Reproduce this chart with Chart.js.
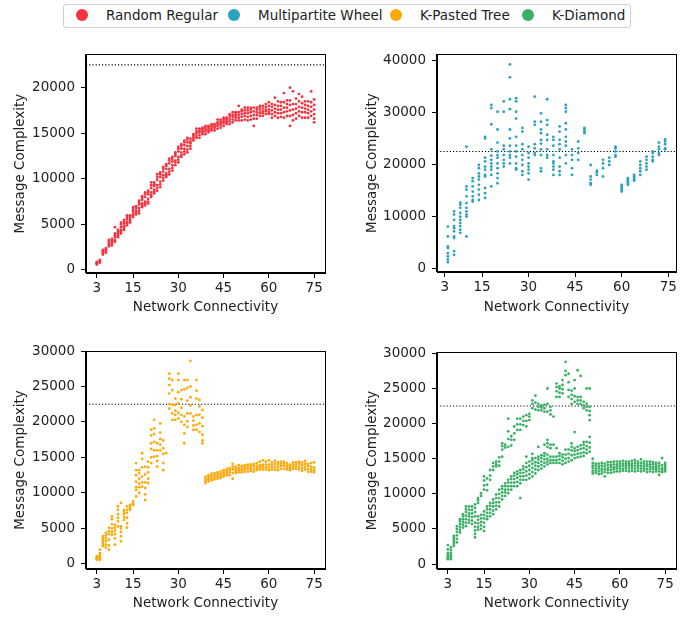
<!DOCTYPE html>
<html>
<head>
<meta charset="utf-8">
<script src="https://cdn.jsdelivr.net/npm/chart.js@4.4.1/dist/chart.umd.min.js"></script>
<style>
  body { margin: 0; background: #fff; width: 695px; height: 628px; position: relative; overflow: hidden; font-family: "DejaVu Sans", sans-serif; }
  canvas { position: absolute; }
  #legendBox { position: absolute; left: 63px; top: 4px; width: 568px; height: 24px; border: 1px solid #d0d0d0; border-radius: 3px; box-sizing: border-box; }
  .dot { position: absolute; width: 12px; height: 12px; border-radius: 50%; top: 10px; }
  .lab { position: absolute; top: 7px; font-size: 13.5px; line-height: 16px; color: #222; white-space: nowrap; }
</style>
</head>
<body>
<div id="legendBox"></div>
<div id="legend"></div>
<canvas id="c0" width="340" height="290" style="left:0;top:40px"></canvas>
<canvas id="c1" width="350" height="290" style="left:345px;top:40px"></canvas>
<canvas id="c2" width="340" height="298" style="left:0;top:330px"></canvas>
<canvas id="c3" width="350" height="298" style="left:345px;top:330px"></canvas>
<script>
// series names
const seriesNames = ["Random Regular", "Multipartite Wheel", "K-Pasted Tree", "K-Diamond"];

// x values (network connectivity)
const connectivity = [3,4,5,6,7,8,9,10,11,12,13,14,15,16,17,18,19,20,21,22,23,24,25,26,27,28,29,30,
  31,32,33,34,35,36,37,38,39,40,41,42,43,44,45,46,47,48,49,50,51,52,53,54,55,56,57,58,59,60,
  61,62,63,64,65,66,67,68,69,70,71,72,73,74,75];
const wheelConnectivity = [4,6,8,10,12,14,16,18,20,22,24,26,28,30,32,34,36,38,40,42,44,46,48,50,
  52,54,56,58,60,62,64,66,68,70,72,74];

// message complexity per x, in thousands
const randomRegular = [
  [0.6,0.7,0.8,0.8,0.9],[0.8,0.9,1.0,1.1],[1.7,1.9,2.0,2.1,2.2],[1.9,2.1,2.2,2.3,2.4],
  [2.6,2.8,2.9,3.1,3.3],[2.7,2.9,3.1,3.2,3.4],[3.1,3.3,3.6,3.8,4.0,4.7],[3.6,3.8,4.0,4.2,4.4],
  [4.0,4.2,4.4,4.7,5.0,5.2],[4.4,4.6,4.8,5.1,5.3,5.5],[4.9,5.1,5.3,5.6,5.8,6.0],[5.2,5.4,5.6,5.8,6.0],
  [5.8,6.0,6.2,6.5,6.7,6.9],[6.1,6.3,6.5,6.8,7.0],[6.2,6.5,6.8,7.2,7.4,7.6],[6.9,7.1,7.3,7.7,7.9,8.1],
  [7.1,7.3,7.5,8.0,8.3,8.5],[7.3,7.5,7.8,8.3,8.5,8.7],[8.0,8.2,8.5,9.0,9.3,9.6],[8.4,8.6,8.8,9.2,9.4,9.6],
  [8.7,9.0,9.3,9.9,10.2,10.5],[9.1,9.4,9.7,10.2,10.5,10.7],[9.8,10.1,10.4,10.8,11.1,11.3],
  [10.2,10.4,10.6,11.1,11.4,11.6],[10.5,10.8,11.1,11.7,12.0,12.2],[10.9,11.2,11.5,11.9,12.2,12.4],
  [11.5,11.8,12.0,12.5,12.7,12.9],[11.8,12.1,12.4,13.0,13.3,13.5],[12.4,12.6,12.9,13.3,13.6,13.8],
  [12.7,13.0,13.3,13.7,14.0,14.2],[12.9,13.2,13.6,14.0,14.3,14.5],[13.3,13.6,13.9,14.1,14.4],
  [14.2,14.4,14.6,14.8,14.9],[14.5,14.7,15.0,15.2,15.5],[14.5,14.8,15.1,15.3,15.5],[14.9,15.1,15.3,15.5,15.6],
  [14.9,15.2,15.4,15.6,15.8],[15.1,15.3,15.5,15.7,15.8],[15.3,15.5,15.7,15.9,16.0],[15.3,15.6,15.8,15.9,16.0],
  [15.5,15.8,16.0,16.2,16.5],[15.6,15.9,16.1,16.3,16.5],[15.8,16.1,16.3,16.5,16.7],[16.0,16.2,16.4,16.6,16.7],
  [16.0,16.3,16.6,16.9,17.1],[16.2,16.5,16.8,17.0,17.3],[16.4,16.7,16.9,17.1,17.3],[16.4,16.7,17.0,17.3,18.0],
  [16.4,16.8,17.1,17.4,17.6],[16.5,16.9,17.2,17.5,17.8],[16.4,16.8,17.2,17.5,17.8],[16.5,16.9,17.3,17.6,17.8],
  [15.8,16.6,17.0,17.4,17.8],[16.6,17.0,17.3,17.6,17.8],[16.9,17.2,17.5,17.8,18.0],[16.9,17.2,17.4,17.7,18.0],
  [17.1,17.4,17.6,17.9,18.2],[17.1,17.3,17.6,18.0,18.4],[16.7,17.1,17.5,17.9,18.2],[16.9,17.3,17.7,18.1,18.9],
  [16.7,17.2,17.6,18.0,18.5],[16.8,17.2,17.6,18.0,18.4],[16.7,17.3,17.8,18.4,19.4],[16.9,17.4,17.8,18.2,18.6],
  [15.8,16.9,17.5,18.1,18.6,20.0],[16.4,17.0,17.6,18.2,19.6],[16.6,17.2,17.7,18.2,18.8],[16.9,17.4,17.9,18.5,19.3],
  [16.7,17.3,17.8,18.3,19.0],[16.7,17.3,17.7,18.1,18.5],[16.7,17.2,17.6,18.0,18.5],[16.9,17.4,17.9,18.4,19.6],
  [16.2,16.6,17.1,17.6,18.1,18.7]
];

const multipartiteWheel = [
  [1.3,1.8,2.4,3.0,4.0,4.3,6.2,8.1],[2.7,3.4,5.9,6.2,7.2,7.8,8.2,9.4,10.4,11.0],
  [6.9,7.5,8.2,8.8,9.4,10.0,10.7,11.7,12.3,12.7],[6.2,10.0,10.4,11.0,11.7,12.6,13.9,15.2,15.8,23.4],
  [12.9,13.2,13.9,14.8,15.8,16.8,17.4],[13.2,14.2,15.2,16.1,17.1,17.7,18.3,19.3,19.9],
  [13.6,14.5,15.5,17.7,18.0,19.0,19.6,20.6,21.3,25.0,25.3],[15.8,18.0,19.0,19.6,20.2,20.9,21.7,22.9,27.7,30.8,31.4],
  [16.4,17.4,18.3,19.3,20.2,21.3,21.8,22.5,24.2,26.7,30.1],[19.6,20.2,20.9,21.8,22.9,23.6,30.1,32.1],
  [20.2,21.3,21.8,22.5,23.6,25.0,26.7,30.6,32.5,36.7,39.2],[19.0,19.3,20.2,21.5,22.5,23.6,25.3,28.8,30.1,32.1,32.7],
  [18.0,18.7,19.9,20.9,21.8,22.9,23.9,26.3,27.0],[17.1,18.3,19.0,19.6,20.2,21.3,22.2,23.4],
  [21.8,22.2,23.1,23.9,27.6,28.2,33.0],[18.7,19.3,21.8,22.9,24.0,24.7,26.0,26.7,28.2,29.8],
  [21.3,21.8,22.9,24.7,25.7,27.6,28.5,32.5],[18.0,19.0,19.6,20.2,20.6,21.8,23.6,24.7,25.3],
  [18.0,18.7,19.6,21.3,22.9,23.9,24.7,26.3,27.3],[20.2,21.8,23.6,24.4,25.3,26.7,27.9,30.1,30.8,31.4],
  [18.0,19.3,20.9,21.8,22.9],[20.9,22.2,23.1,24.4],[26.0,26.3,26.7,27.0],[16.1,16.4,17.1,17.7,19.9],
  [18.0,18.5,18.8],[17.7,19.3,20.2,20.9],[19.9,20.6,21.3],[21.5,21.8,22.5,23.1,23.4],
  [14.8,15.2,15.5,15.8,16.1],[16.1,16.4,16.8,17.1,17.4],[16.9,17.1,17.4,17.7,18.0],[18.0,18.7,19.3,19.9,20.6],
  [19.0,19.6,20.2,20.9,21.5],[20.6,20.9,21.5,22.2,22.5],[21.8,22.2,22.9,23.4,24.2],[22.9,23.1,23.9,24.4,24.8]
];

const kPastedTree = [
  [0.6,0.7,0.8,0.9,1.0,1.1],[0.6,0.8,1.0,1.2,1.5,2.0],[2.5,2.8,3.1,3.4,3.7,3.9],[2.3,2.7,3.2,3.6,4.0,4.4],
  [2.0,2.6,3.4,4.2,4.6,5.1],[4.1,4.5,5.0,5.6,6.3,6.7],[2.7,3.6,4.2,4.7,5.1,5.5],[5.3,6.0,6.5,7.0,7.6,8.1],
  [3.2,3.9,4.5,5.0,5.3,8.6],[6.2,6.6,7.0,7.3,7.6],[5.1,5.7,6.5,7.2,7.6,8.1],[7.6,7.8,8.0,8.3],
  [8.3,8.5,8.8],[9.5,10.4,10.8,11.6,12.5,13.2,14.2],[10.0,10.8,11.3,12.0,12.8,13.2],[10.9,11.5,12.3,13.6,14.8,15.6],
  [9.0,9.8,10.7,11.5,12.6,13.7],[11.4,12.0,12.9,13.6,14.4],[14.2,15.0,16.2,17.0,18.1,18.9],[15.1,16.0,17.2,18.3,19.1,20.3],
  [13.7,14.5,15.2,16.0,17.0],[16.0,16.8,17.6,18.5,19.8],[13.2,14.2,15.5,16.3,17.4],[15.6],
  [21.9,22.5,24.0,25.2,26.1,26.8],[20.3,21.2,22.4,24.5,25.9],[20.3,21.0,21.6,22.4,23.3],[20.5,21.3,22.6,24.2,25.9,26.8],
  [20.0,21.0,22.0,23.2,24.5],[17.0,18.4,19.6,20.8,24.6,25.9],[19.3,20.1,21.2,23.0,24.8,25.9],[21.2,22.3,23.5,25.0,28.6],
  [18.9,19.5,20.2,20.8],[18.9,19.6,21.0,23.3,24.4,25.9],[18.6,19.8,21.0,22.2,23.1],[17.0,17.4,18.2,19.4,20.6,21.7],
  [11.4,11.7,12.0,12.3],[11.6,11.9,12.2,12.5],[11.8,12.1,12.4,12.7],[11.9,12.2,12.5,12.8],
  [12.0,12.3,12.6,12.9],[12.1,12.4,12.7,13.0],[12.3,12.6,12.9,13.2],[12.5,12.8,13.1,13.4],
  [12.5,12.9,13.2,13.5],[12.0,12.8,13.3,13.7,14.1],[12.8,13.1,13.4,13.7],[12.9,13.2,13.5,13.9],
  [12.9,13.2,13.5,13.8],[13.0,13.3,13.6,13.9],[13.0,13.4,13.7,14.0],[13.1,13.4,13.7,14.0],
  [13.0,13.4,13.8,14.1],[13.2,13.5,13.8,14.2],[13.3,13.6,13.9,14.4],[13.3,13.7,14.0,14.6],
  [13.3,13.6,14.0,14.4],[13.2,13.6,14.0,14.6],[13.3,13.7,14.0,14.3],[13.3,13.7,14.1,14.5],
  [13.2,13.6,14.0,14.3],[13.4,13.8,14.1,14.4],[13.4,13.8,14.1,14.4],[13.3,13.6,13.9,14.2],
  [13.2,13.5,13.8,14.0],[13.4,13.7,14.0,14.3],[13.4,13.7,14.0,14.3],[13.3,13.7,14.1,14.4],
  [13.1,13.5,13.9,14.3],[13.3,13.7,14.1,14.5],[13.0,13.4,13.8,14.1],[13.0,13.3,13.7,14.2],
  [12.9,13.2,13.6,14.3]
];

const kDiamond = [
  [0.7,0.9,1.1,1.3,1.6,2.1,2.7],[0.7,1.0,1.3,1.6,2.0,2.4],[2.6,2.9,3.2,3.5,3.8,4.0],[3.1,3.6,4.1,4.6,5.0,5.4],
  [4.5,4.9,5.3,5.7,6.1,6.4],[5.2,5.6,6.0,6.4,6.8,7.1],[5.4,5.9,6.4,6.9,7.4,7.8,8.2],[5.9,6.3,6.8,7.2,7.7,8.2],
  [5.7,6.2,6.7,7.2,7.7,8.2],[3.8,4.3,4.8,5.3,5.9,6.8,7.4,8.0,8.5],[4.9,5.3,5.8,6.3,6.8,8.7,9.1,9.4],
  [5.0,5.5,6.0,6.5,7.0,9.7,10.1],[4.7,5.3,5.9,6.5,7.0,7.5,10.6,11.2,11.9,12.5],[6.4,6.8,7.3,7.8,8.2,10.5,11.3,12.2],
  [6.8,7.3,7.8,8.3,8.7,12.0,12.6,13.4],[7.1,7.6,8.2,8.7,9.2,13.4,13.9,14.4],[7.8,8.3,8.8,9.4,9.9,13.9,14.2,14.6],
  [8.2,8.8,9.4,10.0,10.6,14.0,14.6,15.2],[9.2,9.7,10.2,10.7,11.1,15.3,16.3,16.8,17.2],[9.7,10.2,10.6,11.1,11.5,16.6,17.0],
  [10.1,10.6,11.1,11.6,12.0,16.7,17.8,18.9,20.7],[10.6,11.1,11.6,12.1,12.5,16.9,17.7,18.2],
  [11.1,11.6,12.1,12.6,13.0,17.7,18.6,19.6],[11.1,11.7,12.3,12.8,13.2,19.1,19.9,20.7],
  [9.4,11.5,12.0,12.5,13.0,13.4,19.1,19.9,20.7],[12.0,12.5,13.0,13.5,13.9,19.8,20.4,21.0],
  [12.0,12.6,13.2,13.8,14.4,15.3,19.6,20.4,21.2],[12.2,12.8,13.4,14.0,14.6,20.5,21.0,21.4],
  [12.5,13.1,13.7,14.3,14.8,15.1,15.7,22.2,22.8,23.3],[12.9,13.5,14.0,14.5,15.1,22.0,23.0,24.0],
  [13.4,13.9,14.4,14.9,15.3,16.7,21.9,22.4,22.8],[13.6,14.1,14.6,15.1,15.5,21.9,22.3,22.6],
  [13.9,14.4,14.9,15.4,15.8,17.0,21.7,22.2,22.7],[14.2,14.6,15.0,15.6,16.7,17.2,17.7,21.7,22.8,25.0],
  [14.4,14.8,15.3,16.5,17.0,21.3,21.9,22.4],[14.4,14.8,15.3,17.0,21.0],[14.4,14.8,15.3,16.5,23.8,24.6,25.2,25.7],
  [14.4,14.9,15.4,15.8,23.8,24.4,25.0,25.3],[14.2,14.7,15.2,15.6,24.3,24.9,25.5,26.2],[14.4,15.0,15.6,16.3,26.9,27.5,28.8],
  [14.6,15.1,15.7,16.3,23.8,24.8,25.9,27.1],[14.8,15.5,16.2,16.7,17.2,22.8,23.5,24.1,24.7],
  [15.1,15.6,16.1,16.5,18.8,23.1,23.9,25.0,26.2],[15.2,15.7,16.2,16.7,22.8,23.3,23.8,27.6],
  [15.3,15.8,16.4,16.9,22.8,23.3,23.8,26.8],[15.4,15.9,16.5,17.0,17.4,22.2,22.6,23.1],
  [15.8,16.3,16.8,17.4,21.9,22.4,22.8,25.0],[16.0,16.6,17.3,18.1,20.5,21.2,21.8,22.4,25.0],
  [12.9,13.3,13.7,14.0,14.4,15.0],[13.0,13.3,13.6,14.0,14.3],[12.8,13.2,13.6,13.9,14.3],[12.9,13.3,13.6,14.0,14.4],
  [12.5,13.1,13.5,13.9,14.3],[13.0,13.4,13.7,14.1,14.5],[13.0,13.4,13.8,14.1,14.5],[13.1,13.5,13.8,14.2,14.6],
  [13.2,13.6,13.9,14.2,14.6],[13.2,13.6,13.9,14.3,14.6],[13.3,13.6,14.0,14.3,14.7],[13.3,13.7,14.0,14.3,14.6],
  [13.2,13.6,14.0,14.3,14.6],[13.3,13.7,14.0,14.3,14.7],[13.2,13.6,14.0,14.4,14.8],[13.3,13.7,14.0,14.3,14.6],
  [13.2,13.6,14.0,14.4,14.9],[13.3,13.6,13.9,14.3,14.6],[13.1,13.5,13.9,14.2,14.6],[13.2,13.6,13.9,14.2,14.6],
  [13.1,13.5,13.8,14.2,14.5],[13.2,13.5,13.8,14.1,14.4],[12.7,13.2,13.6,14.0,14.4],[13.1,13.4,13.7,14.1,15.1],
  [13.2,13.5,13.8,14.1,14.4]
];

const threshold = 22500;
const xTicks = [3, 15, 30, 45, 60, 75];
const yTicksSmall = [0, 5000, 10000, 15000, 20000];
const yTicksWheel = [0, 10000, 20000, 30000, 40000];
const yTicksLarge = [0, 5000, 10000, 15000, 20000, 25000, 30000];

const colors = ["#f5333f", "#2aa2bd", "#fca90c", "#3bb065"];
const textColor = "#222";
const font = { family: "DejaVu Sans", size: 13.5 };

// legend (html)
const legend = document.getElementById("legend");
const dotX = [82, 234, 396, 528];
const labX = [106, 258, 420, 552];
seriesNames.forEach((name, i) => {
  const d = document.createElement("div");
  d.className = "dot";
  d.style.left = (dotX[i] - 6) + "px";
  d.style.top = "9px";
  d.style.background = colors[i];
  legend.appendChild(d);
  const t = document.createElement("div");
  t.className = "lab";
  t.style.left = labX[i] + "px";
  t.textContent = name;
  legend.appendChild(t);
});

function toPoints(xs, rows) {
  return xs.flatMap((x, i) => rows[i].map(v => ({ x: x, y: v * 1000 })));
}

// draws top and right edges of the frame
const framePlugin = {
  id: "frame",
  afterDraw(chart) {
    const a = chart.chartArea, ctx = chart.ctx;
    ctx.save();
    ctx.strokeStyle = "#000";
    ctx.lineWidth = 1;
    ctx.strokeRect(Math.round(a.left) - 0.5, Math.round(a.top) + 0.5,
      Math.round(a.right - a.left) + 1, Math.round(a.bottom - a.top) - 1);
    ctx.restore();
  }
};

const panels = [
  { id: "c0", xs: connectivity, rows: randomRegular, color: colors[0], xMin: -0.6, xMax: 78.6,
    yMin: -330, yMax: 23680, yTicks: yTicksSmall, yW: 86, xH: 57, padTop: 13, padRight: 15, yTitlePad: 12, xTitlePad: 14 },
  { id: "c1", xs: wheelConnectivity, rows: multipartiteWheel, color: colors[1], xMin: 0.5, xMax: 77.5,
    yMin: -600, yMax: 41150, yTicks: yTicksWheel, yW: 92, xH: 58, padTop: 14, padRight: 19, yTitlePad: 19, xTitlePad: 14 },
  { id: "c2", xs: connectivity, rows: kPastedTree, color: colors[2], xMin: -0.6, xMax: 78.6,
    yMin: -720, yMax: 30000, yTicks: yTicksLarge, yW: 86, xH: 59, padTop: 21, padRight: 15, yTitlePad: 12, xTitlePad: 16 },
  { id: "c3", xs: connectivity, rows: kDiamond, color: colors[3], xMin: -0.6, xMax: 78.6,
    yMin: -700, yMax: 30200, yTicks: yTicksLarge, yW: 92, xH: 59, padTop: 22, padRight: 19, yTitlePad: 19, xTitlePad: 16 }
];

panels.forEach(p => {
  new Chart(document.getElementById(p.id), {
    type: "scatter",
    data: {
      datasets: [
        {
          data: toPoints(p.xs, p.rows),
          backgroundColor: p.color,
          borderWidth: 0,
          pointRadius: 1.4,
          pointHoverRadius: 1.4
        },
        {
          type: "line",
          data: [{ x: p.xMin, y: threshold }, { x: p.xMax, y: threshold }],
          borderColor: "#000",
          borderWidth: 1.1,
          borderDash: [1.2, 2],
          pointRadius: 0,
          fill: false
        }
      ]
    },
    options: {
      responsive: false,
      animation: false,
      events: [],
      layout: { autoPadding: false, padding: { top: p.padTop, right: p.padRight, left: 0, bottom: 0 } },
      plugins: { legend: { display: false }, tooltip: { enabled: false } },
      scales: {
        x: {
          type: "linear",
          min: p.xMin,
          max: p.xMax,
          afterBuildTicks: s => { s.ticks = xTicks.map(v => ({ value: v })); },
          afterFit: s => { s.height = p.xH; },
          ticks: { font: font, color: textColor, padding: 2, maxRotation: 0, autoSkip: false, callback: v => String(v) },
          grid: { display: true, drawOnChartArea: false, drawTicks: true, tickLength: 5, tickColor: "#000", tickWidth: 1 },
          border: { display: true, color: "#000", width: 1 },
          title: { display: true, text: "Network Connectivity", font: font, color: textColor, padding: { top: 0, bottom: p.xTitlePad } }
        },
        y: {
          type: "linear",
          min: p.yMin,
          max: p.yMax,
          afterBuildTicks: s => { s.ticks = p.yTicks.map(v => ({ value: v })); },
          afterFit: s => { s.width = p.yW; },
          ticks: { font: font, color: textColor, padding: 6, autoSkip: false, callback: v => String(v) },
          grid: { display: true, drawOnChartArea: false, drawTicks: true, tickLength: 5, tickColor: "#000", tickWidth: 1 },
          border: { display: true, color: "#000", width: 1 },
          title: { display: true, text: "Message Complexity", font: font, color: textColor, padding: { top: p.yTitlePad, bottom: 0 } }
        }
      }
    },
    plugins: [framePlugin]
  });
});
</script>
</body>
</html>
